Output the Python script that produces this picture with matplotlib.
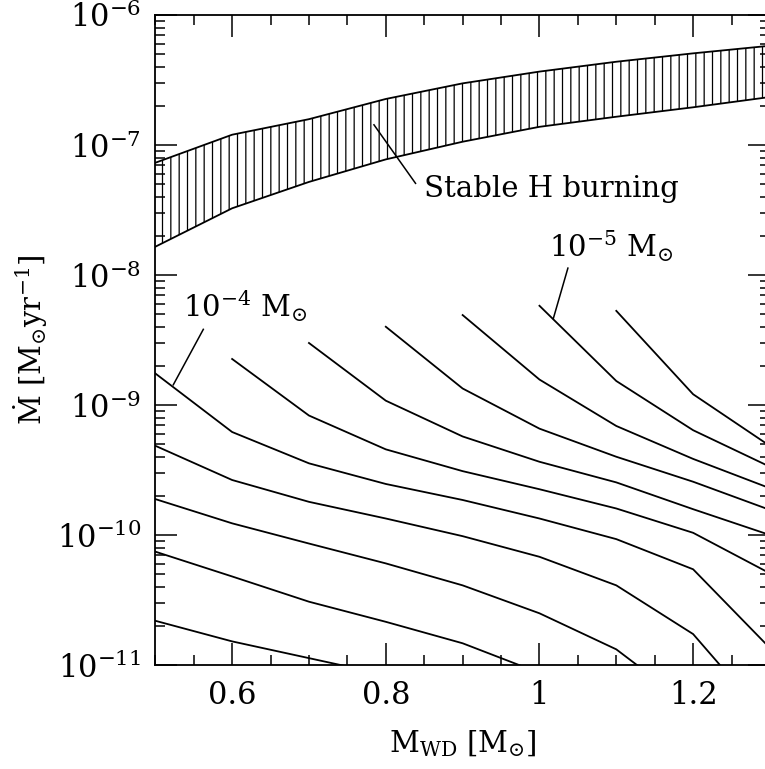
import numpy as np
import matplotlib
matplotlib.use("Agg")
import matplotlib.pyplot as plt
from matplotlib.ticker import MultipleLocator, FuncFormatter, LogLocator

plt.rcParams['font.family'] = ['DejaVu Serif']
plt.rcParams['mathtext.fontset'] = 'dejavuserif'
plt.rcParams['hatch.color'] = 'black'
plt.rcParams['hatch.linewidth'] = 0.9

# ---- data ----
mwd = [0.5, 0.6, 0.7, 0.8, 0.9, 1.0, 1.1, 1.2, 1.3]

band_upper = [7.3e-8, 1.2e-7, 1.58e-7, 2.26e-7, 2.98e-7, 3.67e-7, 4.37e-7, 5.07e-7, 5.8e-7]
band_lower = [1.65e-8, 3.26e-8, 5.2e-8, 7.75e-8, 1.06e-7, 1.38e-7, 1.65e-7, 1.95e-7, 2.34e-7]

# accretion-rate curves for different ignition masses (x start, values)
curve_A_x = [0.5, 0.6, 0.7, 0.8, 0.9, 1.0, 1.1, 1.2, 1.3]
curve_A = [1.75e-9, 6.2e-10, 3.56e-10, 2.47e-10, 1.86e-10, 1.34e-10, 9.3e-11, 5.45e-11, 1.35e-11]
curve_B_x = [0.5, 0.6, 0.7, 0.8, 0.9, 1.0, 1.1, 1.2, 1.3]
curve_B = [4.86e-10, 2.65e-10, 1.8e-10, 1.34e-10, 9.8e-11, 6.8e-11, 4.1e-11, 1.73e-11, 3.6e-12]
curve_C_x = [0.5, 0.6, 0.7, 0.8, 0.9, 1.0, 1.1, 1.2]
curve_C = [1.89e-10, 1.23e-10, 8.6e-11, 6.05e-11, 4.1e-11, 2.5e-11, 1.32e-11, 4.7e-12]
curve_D_x = [0.5, 0.6, 0.7, 0.8, 0.9, 1.0]
curve_D = [7.45e-11, 4.8e-11, 3.07e-11, 2.15e-11, 1.47e-11, 8.7e-12]
curve_E_x = [0.5, 0.6, 0.8]
curve_E = [2.19e-11, 1.52e-11, 8.4e-12]
curve_F_x = [0.6, 0.7, 0.8, 0.9, 1.0, 1.1, 1.2, 1.3]
curve_F = [2.26e-9, 8.3e-10, 4.56e-10, 3.1e-10, 2.25e-10, 1.6e-10, 1.04e-10, 5.07e-11]
curve_G_x = [0.7, 0.8, 0.9, 1.0, 1.1, 1.2, 1.3]
curve_G = [3.0e-9, 1.08e-9, 5.73e-10, 3.66e-10, 2.54e-10, 1.58e-10, 1.0e-10]
curve_H_x = [0.8, 0.9, 1.0, 1.1, 1.2, 1.3]
curve_H = [4.0e-9, 1.34e-9, 6.58e-10, 4.0e-10, 2.57e-10, 1.56e-10]
curve_I_x = [0.9, 1.0, 1.1, 1.2, 1.3]
curve_I = [4.92e-9, 1.57e-9, 6.9e-10, 3.85e-10, 2.29e-10]
curve_J_x = [1.0, 1.1, 1.2, 1.3]
curve_J = [5.8e-9, 1.53e-9, 6.4e-10, 3.35e-10]
curve_K_x = [1.1, 1.2, 1.3]
curve_K = [5.3e-9, 1.21e-9, 4.84e-10]

curves = [(curve_A_x, curve_A), (curve_B_x, curve_B), (curve_C_x, curve_C),
          (curve_D_x, curve_D), (curve_E_x, curve_E), (curve_F_x, curve_F),
          (curve_G_x, curve_G), (curve_H_x, curve_H), (curve_I_x, curve_I),
          (curve_J_x, curve_J), (curve_K_x, curve_K)]

# ---- figure ----
fig = plt.figure(figsize=(7.65, 7.69), dpi=100)
ax = fig.add_axes([0.203, 0.1352, 0.8035, 0.8453])
ax.set_yscale('log')
ax.set_xlim(0.5, 1.3)
ax.set_ylim(1e-11, 1e-6)

lw = 1.3
ax.fill_between(mwd, band_lower, band_upper, facecolor='none', edgecolor='black',
                hatch='||', linewidth=0)
ax.plot(mwd, band_upper, color='black', lw=lw)
ax.plot(mwd, band_lower, color='black', lw=lw)

for xs, ys in curves:
    ax.plot(xs, ys, color='black', lw=lw)

fs = 21
# annotations
ax.plot([0.7846, 0.8387], [1.43e-7, 5.07e-8], color='black', lw=1.1)
ax.text(0.8495, 3.98e-8, 'Stable H burning', fontsize=fs, va='baseline', ha='left')

ax.plot([1.037, 1.018], [1.13e-8, 4.62e-9], color='black', lw=1.1)
ax.text(1.012, 1.37e-8, r'$10^{-5}\ \mathrm{M}_{\odot}$', fontsize=fs, va='baseline', ha='left')

ax.plot([0.5625, 0.5234], [3.82e-9, 1.43e-9], color='black', lw=1.1)
ax.text(0.5366, 4.77e-9, r'$10^{-4}\ \mathrm{M}_{\odot}$', fontsize=fs, va='baseline', ha='left')

# ticks
ax.xaxis.set_major_locator(MultipleLocator(0.2))
ax.xaxis.set_minor_locator(MultipleLocator(0.05))
ax.xaxis.set_major_formatter(FuncFormatter(lambda v, p: '%g' % round(v, 2)))
ax.yaxis.set_major_locator(LogLocator(base=10, numticks=20))
ax.yaxis.set_minor_locator(LogLocator(base=10, subs=np.arange(2, 10), numticks=20))
ax.tick_params(which='both', direction='in', top=True, right=True, width=1.1, labelsize=22)
ax.tick_params(which='major', length=15.5)
ax.tick_params(which='minor', length=7.5)
ax.tick_params(axis='x', which='major', pad=11)
ax.tick_params(axis='y', which='major', pad=10)
for s in ax.spines.values():
    s.set_linewidth(1.3)

ax.set_xlabel(r'$\mathrm{M_{WD}}\ [\mathrm{M}_{\odot}]$', fontsize=21, labelpad=12)
ax.set_ylabel(r'$\dot{\mathrm{M}}\ [\mathrm{M}_{\odot}\mathrm{yr}^{-1}]$', fontsize=21)
ax.yaxis.set_label_coords(-0.172, 0.5)

fig.savefig('out.png', dpi=100)
